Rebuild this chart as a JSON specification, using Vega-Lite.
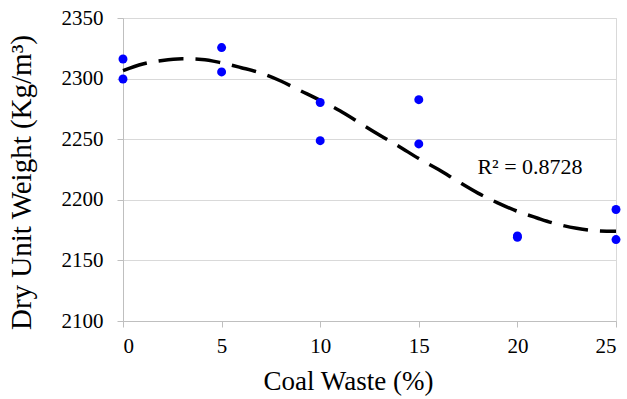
{
  "$schema": "https://vega.github.io/schema/vega-lite/v6.json",
  "width": 493,
  "height": 303,
  "autosize": {"type": "none"},
  "padding": {"left": 123, "top": 18, "right": 11, "bottom": 78},
  "background": "white",
  "config": {
    "font": "Times New Roman, Liberation Serif, serif",
    "view": {"stroke": "#d9d9d9", "strokeWidth": 1},
    "text": {"font": "Times New Roman, Liberation Serif, serif"},
    "axis": {
      "labelFont": "Times New Roman, Liberation Serif, serif",
      "titleFont": "Times New Roman, Liberation Serif, serif",
      "labelColor": "#000000",
      "titleColor": "#000000",
      "titleFontWeight": "normal",
      "gridColor": "#d9d9d9",
      "gridWidth": 1,
      "domainColor": "#bfbfbf",
      "tickColor": "#bfbfbf",
      "tickSize": 6
    }
  },
  "datasets": {
    "samples": [
      {"coal_waste": 0, "dry_unit_weight": 2316.2},
      {"coal_waste": 0, "dry_unit_weight": 2299.7},
      {"coal_waste": 5, "dry_unit_weight": 2325.6},
      {"coal_waste": 5, "dry_unit_weight": 2305.5},
      {"coal_waste": 10, "dry_unit_weight": 2280.3},
      {"coal_waste": 10, "dry_unit_weight": 2248.8},
      {"coal_waste": 15, "dry_unit_weight": 2282.6},
      {"coal_waste": 15, "dry_unit_weight": 2246.1},
      {"coal_waste": 20, "dry_unit_weight": 2170.2},
      {"coal_waste": 20, "dry_unit_weight": 2169.0},
      {"coal_waste": 25, "dry_unit_weight": 2192.0},
      {"coal_waste": 25, "dry_unit_weight": 2167.2}
    ],
    "trend": [
      {"coal_waste": 0, "dry_unit_weight": 2306.5},
      {"coal_waste": 1, "dry_unit_weight": 2312.0},
      {"coal_waste": 2, "dry_unit_weight": 2315.0},
      {"coal_waste": 3, "dry_unit_weight": 2316.3},
      {"coal_waste": 4, "dry_unit_weight": 2315.8},
      {"coal_waste": 5, "dry_unit_weight": 2313.0},
      {"coal_waste": 6, "dry_unit_weight": 2309.0},
      {"coal_waste": 7, "dry_unit_weight": 2304.5},
      {"coal_waste": 8, "dry_unit_weight": 2298.0},
      {"coal_waste": 9, "dry_unit_weight": 2290.0},
      {"coal_waste": 10, "dry_unit_weight": 2282.0},
      {"coal_waste": 11, "dry_unit_weight": 2273.5},
      {"coal_waste": 12, "dry_unit_weight": 2263.5},
      {"coal_waste": 13, "dry_unit_weight": 2253.5},
      {"coal_waste": 14, "dry_unit_weight": 2244.0},
      {"coal_waste": 15, "dry_unit_weight": 2234.0},
      {"coal_waste": 16, "dry_unit_weight": 2225.0},
      {"coal_waste": 17, "dry_unit_weight": 2215.0},
      {"coal_waste": 18, "dry_unit_weight": 2205.5},
      {"coal_waste": 19, "dry_unit_weight": 2197.5},
      {"coal_waste": 20, "dry_unit_weight": 2190.5},
      {"coal_waste": 21, "dry_unit_weight": 2185.0},
      {"coal_waste": 22, "dry_unit_weight": 2180.0},
      {"coal_waste": 23, "dry_unit_weight": 2176.5},
      {"coal_waste": 24, "dry_unit_weight": 2174.5},
      {"coal_waste": 25, "dry_unit_weight": 2174.0}
    ],
    "fit_label": [
      {"coal_waste": 20.64, "dry_unit_weight": 2227, "text": "R² = 0.8728"}
    ]
  },
  "encoding": {
    "x": {
      "field": "coal_waste",
      "type": "quantitative",
      "scale": {"domain": [0, 25], "nice": false, "zero": false},
      "axis": {
        "title": "Coal Waste (%)",
        "values": [0, 5, 10, 15, 20, 25],
        "format": "d",
        "grid": false,
        "labelFontSize": 21,
        "labelPadding": 8,
        "titleFontSize": 27,
        "titlePadding": 12,
        "titleX": 225
      }
    },
    "y": {
      "field": "dry_unit_weight",
      "type": "quantitative",
      "scale": {"domain": [2100, 2350], "nice": false, "zero": false},
      "axis": {
        "title": "Dry Unit Weight (Kg/m³)",
        "values": [2100, 2150, 2200, 2250, 2300, 2350],
        "format": "d",
        "grid": true,
        "labelFontSize": 21,
        "labelPadding": 14,
        "titleFontSize": 29,
        "titlePadding": 25,
        "titleY": 164
      }
    }
  },
  "layer": [
    {
      "data": {"name": "trend"},
      "mark": {
        "type": "line",
        "interpolate": "monotone",
        "color": "#000000",
        "strokeWidth": 3.5,
        "strokeDash": [25, 12]
      }
    },
    {
      "data": {"name": "samples"},
      "mark": {"type": "circle", "color": "#0000ff", "opacity": 1, "size": 80}
    },
    {
      "data": {"name": "fit_label"},
      "mark": {
        "type": "text",
        "fontSize": 22,
        "color": "#000000",
        "align": "center",
        "baseline": "middle"
      },
      "encoding": {"text": {"field": "text"}}
    }
  ]
}
